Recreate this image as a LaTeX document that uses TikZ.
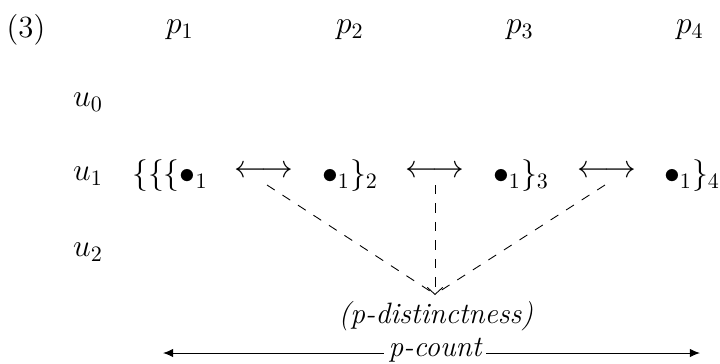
\documentclass[tikz,border=0pt]{standalone}
\usepackage{amsmath}
\usetikzlibrary{arrows.meta}
\begin{document}
\begin{tikzpicture}[x=0.4545pt,y=-0.4545pt,
  lbl/.style={inner sep=0pt,font=\fontsize{14}{17}\selectfont},
  ital/.style={inner sep=2pt,font=\fontsize{13.4}{16}\selectfont\itshape},
  dashconn/.style={dash pattern=on 4.2pt off 4.2pt,line width=0.4pt},
  countarrow/.style={-{Latex[length=4.6pt,width=3.8pt]},line width=0.45pt}]
\useasboundingbox (0,0) rectangle (720,363);
% header row
\node[lbl] (num) at (26,30) {(3)};
\node[lbl] (p1) at (180,30) {$p_1$};
\node[lbl] (p2) at (350,30) {$p_2$};
\node[lbl] (p3) at (520,30) {$p_3$};
\node[lbl] (p4) at (690,30) {$p_4$};
% row labels
\node[lbl] (u0) at (88,102) {$u_0$};
\node[lbl] (u1) at (88,176) {$u_1$};
\node[lbl] (u2) at (88,252) {$u_2$};
% u1 row
\node[lbl] (e1) at (170,176) {$\{\{\{\bullet_1$};
\node[lbl] (a1) at (264,172) {$\longleftrightarrow$};
\node[lbl] (e2) at (350,176) {$\bullet_1\}_2$};
\node[lbl] (a2) at (435,172) {$\longleftrightarrow$};
\node[lbl] (e3) at (521,176) {$\bullet_1\}_3$};
\node[lbl] (a3) at (607,172) {$\longleftrightarrow$};
\node[lbl] (e4) at (692,176) {$\bullet_1\}_4$};
% distinctness
\node[ital,anchor=north] (dist) at (436,297) {(p-distinctness)};
\coordinate (tip) at (435,295);
\coordinate (s1) at (267,185);
\coordinate (s2) at (435,185);
\coordinate (s3) at (605,185);
\draw[dashconn] (s1) -- (433,293);
\draw[dashconn] (s3) -- (437,293);
\draw[dashconn,-{Straight Barb[length=3.2pt,width=7pt]}] (s2) -- (tip);
% p-count
\node[ital] (count) at (435,350) {p-count};
\coordinate (cl) at (163,353);
\coordinate (cr) at (700,353);
\draw[countarrow] (count.west |- cl) -- (cl);
\draw[countarrow] (count.east |- cr) -- (cr);
\end{tikzpicture}
\end{document}
